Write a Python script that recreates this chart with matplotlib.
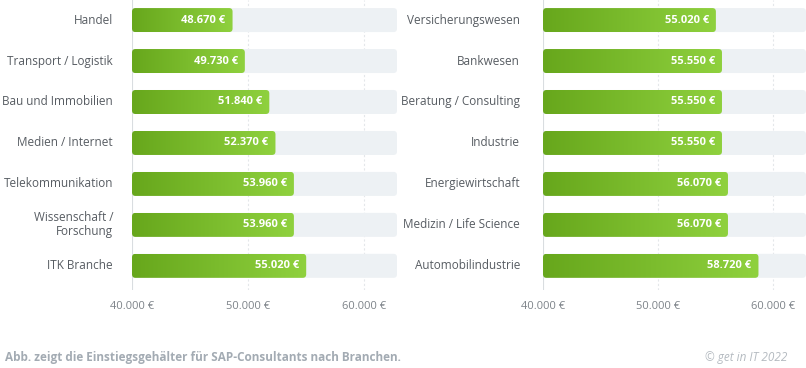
import numpy as np
import matplotlib
matplotlib.use("Agg")
import matplotlib.pyplot as plt
from matplotlib.patches import FancyBboxPatch
from matplotlib.colors import LinearSegmentedColormap

plt.rcParams["font.family"] = ["Open Sans", "DejaVu Sans"]

# Data
left_labels = ["Handel", "Transport / Logistik", "Bau und Immobilien", "Medien / Internet",
               "Telekommunikation", "Wissenschaft /\nForschung", "ITK Branche"]
left_values = [48670, 49730, 51840, 52370, 53960, 53960, 55020]

right_labels = ["Versicherungswesen", "Bankwesen", "Beratung / Consulting", "Industrie",
                "Energiewirtschaft", "Medizin / Life Science", "Automobilindustrie"]
right_values = [55020, 55550, 55550, 55550, 56070, 56070, 58720]

x_ticks = [40000, 50000, 60000]
x_min, x_max = 40000, 62850

green_cmap = LinearSegmentedColormap.from_list("grn", ["#67a71c", "#8fd13e"])
track_color = "#edf1f4"
label_color = "#575c62"
tick_color = "#7d8389"

W, H = 806, 368
fig = plt.figure(figsize=(W / 100, H / 100), dpi=100)


def fmt(v):
    return f"{v:,}".replace(",", ".") + " €"


def draw_panel(ax, labels, values, label_gap=19):
    n = len(labels)
    ax.set_xlim(x_min, x_max)
    ax.set_ylim(n - 0.41, -0.49)
    # pixel scales for rounded corners
    bbox = ax.get_window_extent()
    px_x = bbox.width / (x_max - x_min)
    px_y = bbox.height / (n - 0.41 + 0.49)
    r_px = 3.5
    rx = r_px / px_x
    aspect = (r_px / px_y) / rx
    h = 24 / px_y

    for t in x_ticks:
        ls = "-" if t == x_min else (0, (2, 2))
        col = "#d9dde0" if t == x_min else "#e4e7ea"
        ax.axvline(t, color=col, lw=0.8, ls=ls, zorder=0)

    grad = np.linspace(0, 1, 256).reshape(1, -1)
    for i, (lab, v) in enumerate(zip(labels, values)):
        track = FancyBboxPatch((x_min, i - h / 2), x_max - x_min, h,
                               boxstyle=f"round,pad=0,rounding_size={rx}",
                               mutation_aspect=aspect, fc=track_color, ec="none", zorder=1)
        ax.add_patch(track)
        bar = FancyBboxPatch((x_min, i - h / 2), v - x_min, h,
                             boxstyle=f"round,pad=0,rounding_size={rx}",
                             mutation_aspect=aspect, fc="none", ec="none", zorder=2)
        ax.add_patch(bar)
        im = ax.imshow(grad, cmap=green_cmap, aspect="auto", zorder=2,
                       extent=[x_min, v, i + h / 2, i - h / 2])
        im.set_clip_path(bar)
        ax.text(v - 7 / px_x, i, fmt(v), color="white", fontsize=8, fontweight="bold",
                ha="right", va="center", zorder=3)
        ax.text(x_min - label_gap / px_x, i, lab, color=label_color, fontsize=8.5,
                ha="right", va="center", multialignment="right", linespacing=1.1)

    ax.set_xlim(x_min, x_max)
    ax.set_ylim(n - 0.41, -0.49)
    ax.set_xticks(x_ticks)
    ax.set_xticklabels([fmt(t) for t in x_ticks], color=tick_color, fontsize=8)
    ax.tick_params(axis="x", length=0, pad=8)
    ax.set_yticks([])
    for s in ax.spines.values():
        s.set_visible(False)


ax1 = fig.add_axes([132 / W, 1 - 290 / H, 265 / W, 290 / H])
ax2 = fig.add_axes([543 / W, 1 - 290 / H, 263 / W, 290 / H])
draw_panel(ax1, left_labels, left_values)
draw_panel(ax2, right_labels, right_values, label_gap=23)

fig.text(5 / W, 1 - 358 / H, "Abb. zeigt die Einstiegsgehälter für SAP-Consultants nach Branchen.",
         color="#a3abb3", fontsize=8.45, fontweight="bold", ha="left", va="center")
fig.text(787 / W, 1 - 358 / H, "© get in IT 2022", color="#b5bbc1", fontsize=8.5,
         style="italic", ha="right", va="center")

fig.savefig("out.png", dpi=100, facecolor="white")
